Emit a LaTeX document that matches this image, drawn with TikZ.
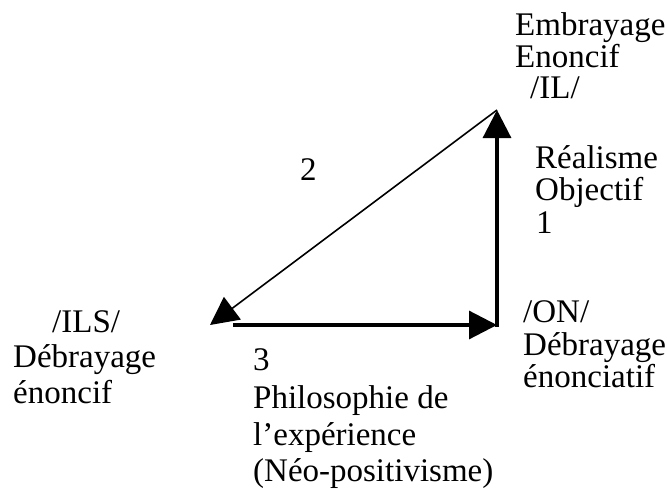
\documentclass[tikz,border=0pt]{standalone}
\usepackage{fontspec}
\setmainfont{Liberation Serif}
\usetikzlibrary{arrows.meta}
\begin{document}
\begin{tikzpicture}[x=1pt,y=-1pt,
  lbl/.style={anchor=base west,inner sep=0pt,font=\fontsize{33}{33}\selectfont},
  bigtip/.style={-{Triangle[length=28pt,width=28pt]}},
  thickline/.style={line width=3.2pt},
  thinline/.style={line width=1.6pt}]
\useasboundingbox (0,0) rectangle (667,488);
% vertices
\coordinate (L) at (210,325);
\coordinate (Ls) at (233,325);
\coordinate (R) at (497,325);
\coordinate (Rb) at (497,326.6);
\coordinate (T) at (497,110);
% arrows
\draw[thickline,bigtip] (Ls) -- (R);
\draw[thickline,bigtip] (Rb) -- (T);
\draw[thinline,bigtip] (T) -- (L);
% labels
\node[lbl] (e1) at (515,35) {Embrayage};
\node[lbl] (e2) at (515,67) {Enoncif};
\node[lbl] (e3) at (530,98) {/IL/};
\node[lbl] (r1) at (535,168) {Réalisme};
\node[lbl] (r2) at (535,200) {Objectif};
\node[lbl] (r3) at (536,233) {1};
\node[lbl] (n2) at (300,180) {2};
\node[lbl] (i1) at (52,332) {/ILS/};
\node[lbl] (i2) at (13,367) {Débrayage};
\node[lbl] (i3) at (13,403) {énoncif};
\node[lbl] (p1) at (253,370) {3};
\node[lbl] (p2) at (253,408) {Philosophie de};
\node[lbl] (p3) at (253,445) {l’expérience};
\node[lbl] (p4) at (253,481) {(Néo-positivisme)};
\node[lbl] (o1) at (523,322) {/ON/};
\node[lbl] (o2) at (523,355) {Débrayage};
\node[lbl] (o3) at (523,387) {énonciatif};
\end{tikzpicture}
\end{document}
